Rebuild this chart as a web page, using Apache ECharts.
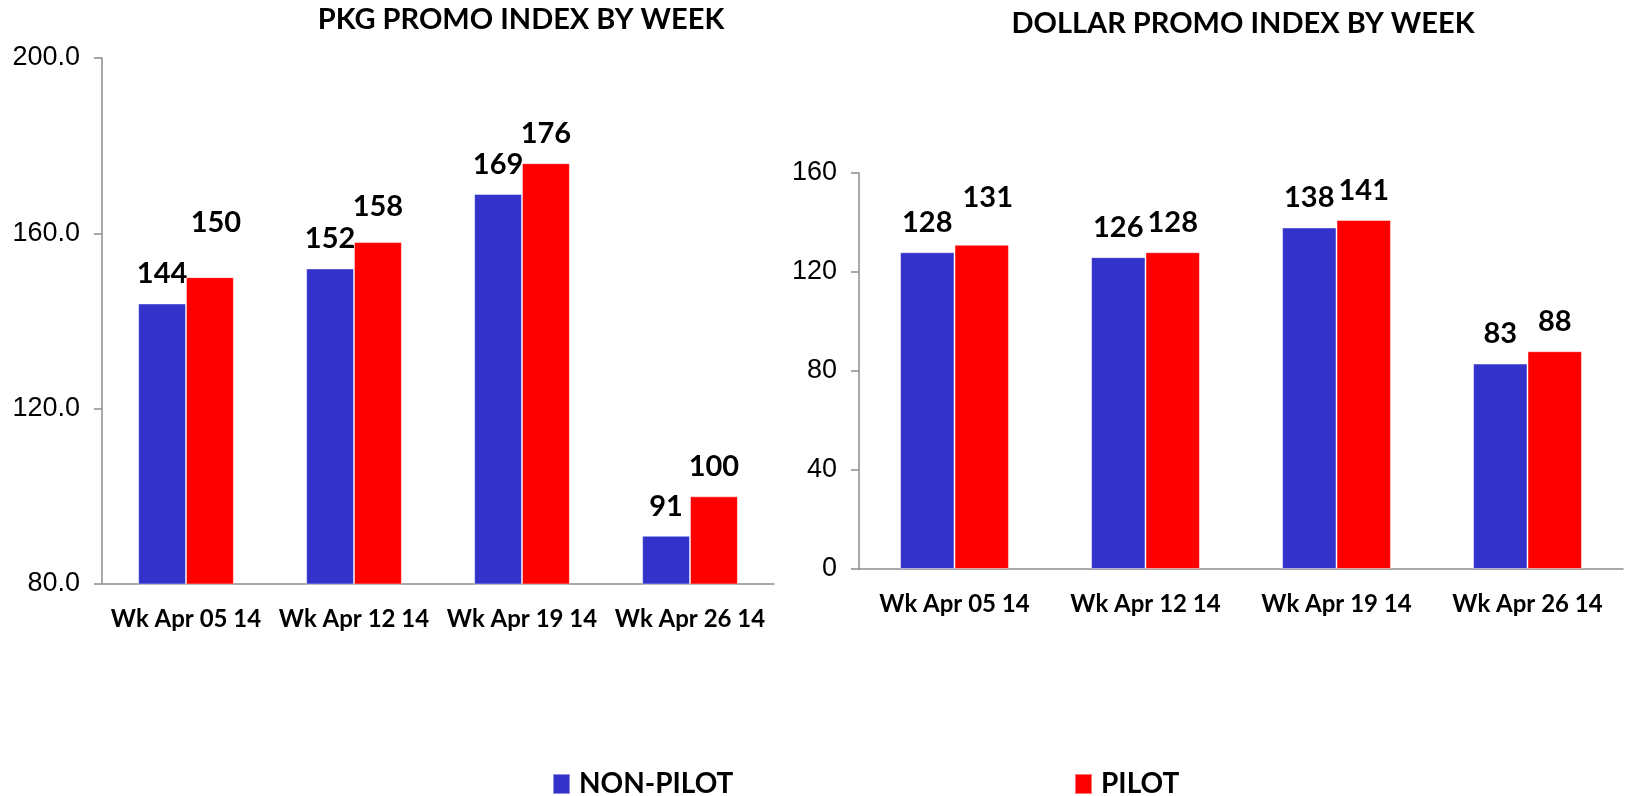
<!DOCTYPE html>
<html>
<head>
<meta charset="utf-8">
<script src="https://cdn.jsdelivr.net/npm/echarts@6/dist/echarts.min.js"></script>
<style>
  html, body { margin: 0; padding: 0; background: #fff; }
  #chart { width: 1627px; height: 796px; }
</style>
</head>
<body>
<div id="chart"></div>
<script>
// categories and values
const weeks = ['Wk Apr 05 14', 'Wk Apr 12 14', 'Wk Apr 19 14', 'Wk Apr 26 14']
const seriesNames = ['NON-PILOT', 'PILOT']
const pkgNonPilot = [144, 152, 169, 91]
const pkgPilot = [150, 158, 176, 100]
const dollarNonPilot = [128, 126, 138, 83]
const dollarPilot = [131, 128, 141, 88]
const pkgTicks = [80, 200, 40]      // min, max, step
const dollarTicks = [0, 160, 40]

const BLUE = '#3333CC'
const RED = '#FF0000'
const AXIS = '#8c8c8c'
const BOLD = 'Lato, "Liberation Sans", sans-serif'
const PLAIN = '"Liberation Sans", Arial, sans-serif'

// a few of the value labels sit higher than the rest in the original
function withLabels (values, lifts) {
  return values.map((v, i) => {
    if (lifts[i] == null) return v
    return { value: v, label: { distance: lifts[i][0], offset: [lifts[i][1], 0] } }
  })
}

function barSeries (name, color, values, axisIndex, lifts) {
  return {
    name: name,
    type: 'bar',
    xAxisIndex: axisIndex,
    yAxisIndex: axisIndex,
    barGap: 0,
    barCategoryGap: '43%',
    itemStyle: { color: color, borderColor: 'rgba(255,255,255,0.45)', borderWidth: 1 },
    label: {
      show: true,
      position: 'top',
      distance: 15,
      color: '#000',
      fontFamily: BOLD,
      fontWeight: 'bold',
      fontSize: 29
    },
    data: withLabels(values, lifts || {})
  }
}

function valueAxis (ticks, gridIndex, decimals) {
  return {
    type: 'value',
    gridIndex: gridIndex,
    min: ticks[0],
    max: ticks[1],
    interval: ticks[2],
    axisLine: { show: true, lineStyle: { color: AXIS, width: 1.5 } },
    axisTick: { show: true, length: 8, lineStyle: { color: AXIS, width: 1.5 } },
    splitLine: { show: false },
    axisLabel: {
      margin: 22,
      color: '#000',
      fontFamily: PLAIN,
      fontSize: 27,
      formatter: v => v.toFixed(decimals)
    }
  }
}

function categoryAxis (gridIndex) {
  return {
    type: 'category',
    gridIndex: gridIndex,
    data: weeks,
    axisLine: { lineStyle: { color: AXIS, width: 1.5 } },
    axisTick: { length: 8, lineStyle: { color: AXIS, width: 1.5 } },
    axisLabel: {
      margin: 23,
      interval: 0,
      color: '#000',
      fontFamily: BOLD,
      fontWeight: 'bold',
      fontSize: 24
    }
  }
}

const legendText = {
  color: '#000',
  fontFamily: BOLD,
  fontWeight: 'bold',
  fontSize: 28,
  padding: [0, 0, 0, 4]
}

const option = {
  animation: false,
  title: [
    {
      text: 'PKG PROMO INDEX BY WEEK',
      left: 516,
      top: 0,
      textAlign: 'center',
      textStyle: { color: '#000', fontFamily: BOLD, fontWeight: 'bold', fontSize: 29 }
    },
    {
      text: 'DOLLAR PROMO INDEX BY WEEK',
      left: 1238,
      top: 4,
      textAlign: 'center',
      textStyle: { color: '#000', fontFamily: BOLD, fontWeight: 'bold', fontSize: 29 }
    }
  ],
  legend: [
    {
      data: [seriesNames[0]],
      left: 547,
      top: 765,
      icon: 'rect',
      itemWidth: 17,
      itemHeight: 20,
      textStyle: legendText
    },
    {
      data: [seriesNames[1]],
      left: 1069,
      top: 765,
      icon: 'rect',
      itemWidth: 17,
      itemHeight: 20,
      textStyle: legendText
    }
  ],
  grid: [
    { left: 102, right: 853, top: 58, bottom: 212 },
    { left: 859, right: 4, top: 173, bottom: 227 }
  ],
  xAxis: [categoryAxis(0), categoryAxis(1)],
  yAxis: [valueAxis(pkgTicks, 0, 1), valueAxis(dollarTicks, 1, 0)],
  series: [
    barSeries(seriesNames[0], BLUE, pkgNonPilot, 0),
    barSeries(seriesNames[1], RED, pkgPilot, 0, { 0: [40, 6], 1: [21, 0] }),
    barSeries(seriesNames[0], BLUE, dollarNonPilot, 1),
    barSeries(seriesNames[1], RED, dollarPilot, 1, { 0: [33, 6] })
  ]
}

const myChart = echarts.init(document.getElementById('chart'))
myChart.setOption(option)
</script>
</body>
</html>
